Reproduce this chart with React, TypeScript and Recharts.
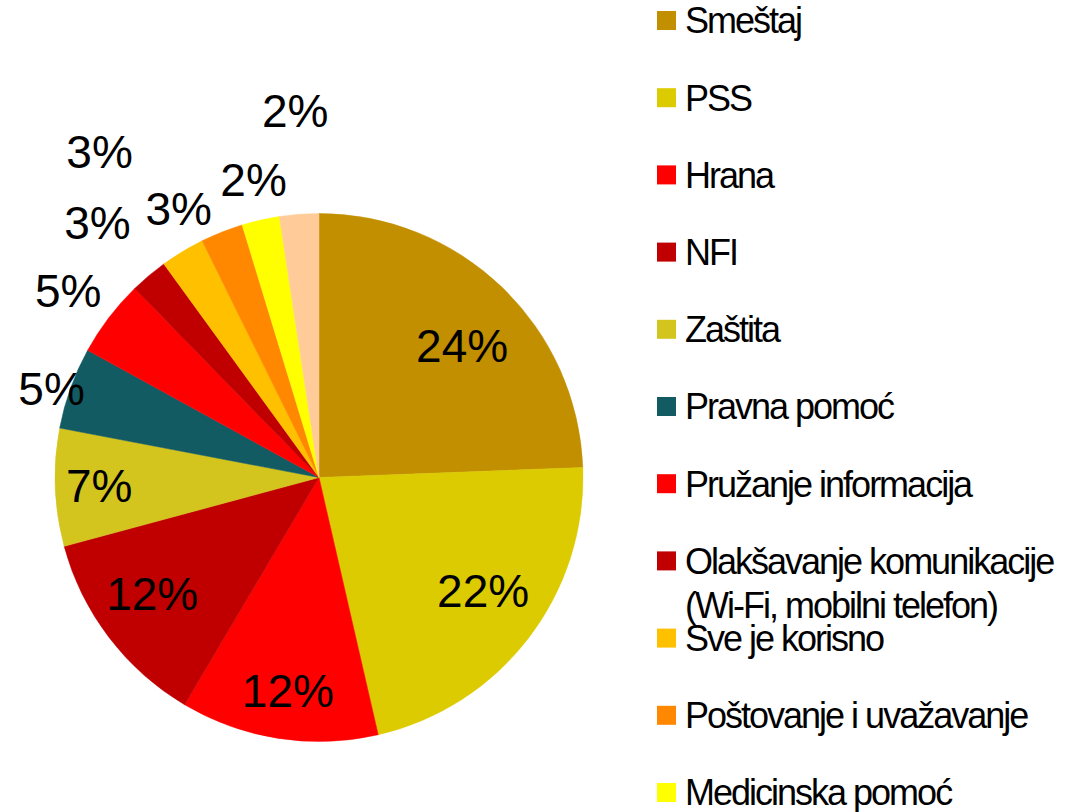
import React from "react";
import { PieChart, Pie, Cell, Legend } from "recharts";

const categories = [
  "Smeštaj",
  "PSS",
  "Hrana",
  "NFI",
  "Zaštita",
  "Pravna pomoć",
  "Pružanje informacija",
  "Olakšavanje komunikacije\n(Wi-Fi, mobilni telefon)",
  "Sve je korisno",
  "Poštovanje i uvažavanje",
  "Medicinska pomoć",
  "Ostalo",
];
const values = [24.4, 22.0, 12.1, 12.3, 7.2, 5.0, 4.7, 2.3, 2.7, 2.6, 2.3, 2.4];
const percentLabels = ["24%", "22%", "12%", "12%", "7%", "5%", "5%", "3%", "3%", "3%", "2%", "2%"];

// styling / layout (kept separate from data)
const colors = [
  "#C18F00",
  "#DCCB00",
  "#FF0000",
  "#C00000",
  "#D4C41E",
  "#135B63",
  "#FF0000",
  "#C00000",
  "#FFC000",
  "#FF8800",
  "#FFFF00",
  "#FFCC99",
];
const labelRadius = [195, 199, 215, 203, 220, 282, 313, 338, 393, 303, 305, 368];
const labelAngleShift = [3.3, -3, -0.5, 2.5, 0, -1.3, -0.5, -0.8, -2.8, -6, 0.4, 0.6];

const FONT = "'Liberation Sans', Arial, sans-serif";
const RAD = Math.PI / 180;

const data = categories.map((name, i) => ({ name, value: values[i] }));

const renderLabel = (props: any) => {
  const { cx, cy, midAngle, index } = props;
  const ang = (midAngle - labelAngleShift[index]) * RAD;
  const r = labelRadius[index];
  const x = cx + r * Math.cos(-ang);
  const y = cy + r * Math.sin(-ang);
  return (
    <text
      x={x}
      y={y + 16.5}
      textAnchor="middle"
      fill="#000"
      fontSize={46}
      fontFamily={FONT}
    >
      {percentLabels[index]}
    </text>
  );
};

const LegendContent = () => {
  const step = 77.2;
  return (
    <svg width={411} height={812} style={{ display: "block" }}>
      {categories.map((name, i) => {
        const cy = 20.5 + step * i;
        const lines = name.split("\n");
        return (
          <g key={name}>
            <rect x={0} y={cy - 9.5} width={19} height={19} fill={colors[i]} />
            {lines.map((ln, j) => (
              <text
                key={j}
                x={28}
                y={cy + 12.9 + j * 44}
                fontSize={36}
                letterSpacing={-2}
                fontFamily={FONT}
                fill="#000"
              >
                {ln}
              </text>
            ))}
          </g>
        );
      })}
    </svg>
  );
};

export default function App() {
  return (
    <div style={{ position: "absolute", left: 0, top: 0, width: 1068, height: 812, background: "#fff", overflow: "hidden" }}>
      <PieChart width={1068} height={812} margin={{ top: 0, right: 0, bottom: 0, left: 0 }}>
        <Pie
          data={data}
          dataKey="value"
          nameKey="name"
          cx={319}
          cy={477.5}
          outerRadius={264}
          innerRadius={0}
          startAngle={90}
          endAngle={-270}
          label={renderLabel}
          labelLine={false}
          isAnimationActive={false}
          stroke="none"
        >
          {data.map((d, i) => (
            <Cell key={d.name} fill={colors[i]} stroke={colors[i]} strokeWidth={0.5} />
          ))}
        </Pie>
        <Legend
          content={<LegendContent />}
          layout="vertical"
          verticalAlign="top"
          align="right"
          wrapperStyle={{ position: "absolute", left: 657, top: 0, width: 411, height: 812 }}
        />
      </PieChart>
    </div>
  );
}
